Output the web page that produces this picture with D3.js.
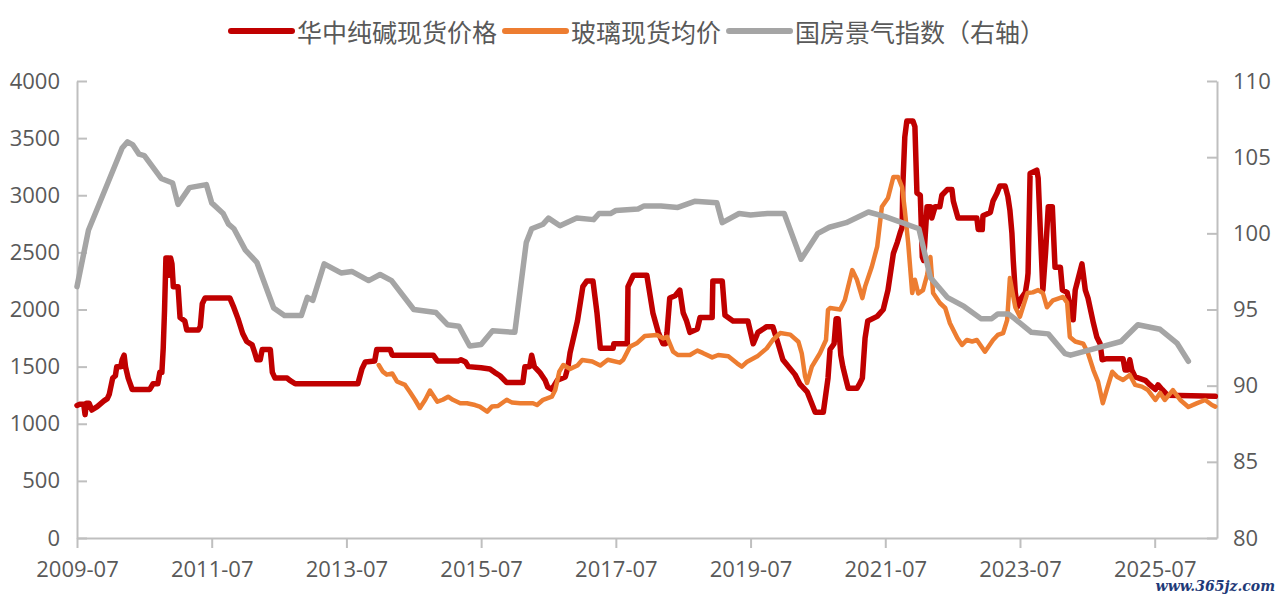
<!DOCTYPE html>
<html>
<head>
<meta charset="utf-8">
<script src="https://cdnjs.cloudflare.com/ajax/libs/d3/7.8.5/d3.min.js"></script>
<style>
	body { margin: 0; background: #fff; }
	svg { display: block; }
</style>
</head>
<body>
<script>
// Series data: [decimal year, value]
var sodaPrice = [
	[2009.50,1160],[2009.54,1170],[2009.60,1170],[2009.62,1080],[2009.64,1180],[2009.68,1180],[2009.72,1120],
	[2009.80,1150],[2009.90,1200],[2009.95,1220],[2009.98,1260],[2010.03,1400],[2010.07,1420],[2010.09,1500],
	[2010.15,1500],[2010.17,1560],[2010.20,1600],[2010.22,1500],[2010.26,1400],[2010.32,1300],[2010.58,1300],
	[2010.63,1350],[2010.70,1350],[2010.73,1450],[2010.76,1450],[2010.78,1660],[2010.80,2000],[2010.82,2450],
	[2010.86,2450],[2010.87,2300],[2010.89,2450],[2010.91,2400],[2010.93,2200],[2011.00,2200],[2011.03,1930],
	[2011.10,1900],[2011.13,1820],[2011.30,1820],[2011.33,1850],[2011.36,2050],[2011.40,2100],[2011.77,2100],
	[2011.82,2030],[2011.89,1920],[2011.96,1790],[2012.02,1720],[2012.10,1690],[2012.14,1620],[2012.17,1560],
	[2012.22,1560],[2012.25,1650],[2012.37,1650],[2012.40,1450],[2012.44,1400],[2012.62,1400],[2012.66,1380],
	[2012.74,1350],[2013.67,1350],[2013.73,1480],[2013.78,1540],[2013.92,1550],[2013.95,1650],[2014.15,1650],
	[2014.18,1600],[2014.79,1600],[2014.85,1550],[2015.16,1550],[2015.20,1560],[2015.27,1540],[2015.31,1500],
	[2015.50,1490],[2015.63,1480],[2015.70,1450],[2015.78,1420],[2015.88,1360],[2016.12,1360],[2016.15,1500],
	[2016.22,1500],[2016.25,1600],[2016.29,1500],[2016.37,1450],[2016.45,1380],[2016.49,1320],[2016.55,1300],
	[2016.63,1380],[2016.75,1410],[2016.79,1500],[2016.82,1620],[2016.93,1900],[2017.01,2200],[2017.07,2250],
	[2017.16,2250],[2017.22,1970],[2017.27,1660],[2017.46,1660],[2017.47,1700],[2017.67,1700],[2017.68,2200],
	[2017.76,2300],[2017.96,2300],[2018.05,1970],[2018.13,1800],[2018.20,1700],[2018.24,1700],[2018.26,1800],
	[2018.30,2100],[2018.38,2120],[2018.45,2170],[2018.50,1970],[2018.55,1900],[2018.60,1800],[2018.71,1830],
	[2018.75,1930],[2018.93,1930],[2018.94,2250],[2019.08,2250],[2019.12,1950],[2019.24,1900],[2019.46,1900],
	[2019.54,1700],[2019.61,1800],[2019.74,1850],[2019.83,1850],[2019.91,1700],[2019.98,1560],[2020.16,1430],
	[2020.23,1350],[2020.34,1280],[2020.46,1100],[2020.58,1100],[2020.65,1400],[2020.68,1650],[2020.74,1700],
	[2020.77,1920],[2020.80,1920],[2020.84,1600],[2020.87,1500],[2020.92,1380],[2020.95,1310],[2021.08,1310],
	[2021.12,1350],[2021.16,1400],[2021.20,1750],[2021.24,1900],[2021.38,1940],[2021.47,2000],[2021.54,2170],
	[2021.62,2490],[2021.68,2590],[2021.72,2670],[2021.75,2720],[2021.76,3070],[2021.79,3510],[2021.82,3650],
	[2021.91,3650],[2021.94,3600],[2021.97,3020],[2022.02,3000],[2022.05,2460],[2022.07,2430],[2022.12,2900],
	[2022.17,2900],[2022.19,2800],[2022.24,2900],[2022.31,2900],[2022.34,3000],[2022.42,3050],[2022.49,3050],
	[2022.51,2950],[2022.58,2800],[2022.86,2800],[2022.88,2700],[2022.94,2700],[2022.95,2820],[2023.06,2850],
	[2023.10,2950],[2023.16,3020],[2023.20,3080],[2023.28,3080],[2023.32,2990],[2023.35,2870],[2023.38,2670],
	[2023.40,2430],[2023.43,2150],[2023.46,2020],[2023.52,2100],[2023.58,2150],[2023.61,2260],[2023.62,2320],
	[2023.65,3190],[2023.75,3220],[2023.77,3150],[2023.80,2720],[2023.84,2170],[2023.88,2500],[2023.92,2900],
	[2023.98,2900],[2024.02,2370],[2024.10,2370],[2024.13,2170],[2024.20,2150],[2024.29,1910],[2024.32,2170],
	[2024.36,2260],[2024.42,2400],[2024.47,2170],[2024.51,2100],[2024.59,1880],[2024.64,1760],[2024.69,1700],
	[2024.72,1560],[2024.79,1570],[2025.03,1570],[2025.06,1470],[2025.10,1470],[2025.13,1560],[2025.16,1470],
	[2025.21,1410],[2025.36,1380],[2025.43,1340],[2025.51,1300],[2025.55,1340],[2025.61,1300],[2025.69,1250],
	[2026.40,1240]
];

var glassPrice = [
	[2013.98,1514],[2014.04,1456],[2014.10,1430],[2014.18,1440],[2014.25,1370],[2014.37,1340],[2014.44,1280],
	[2014.52,1208],[2014.59,1138],[2014.67,1210],[2014.74,1290],[2014.85,1193],[2014.93,1210],[2015.01,1237],
	[2015.08,1210],[2015.19,1180],[2015.29,1180],[2015.41,1164],[2015.48,1150],[2015.59,1106],[2015.66,1150],
	[2015.75,1155],[2015.88,1210],[2015.96,1185],[2016.08,1180],[2016.27,1180],[2016.33,1164],[2016.42,1210],
	[2016.55,1237],[2016.60,1295],[2016.66,1456],[2016.72,1514],[2016.82,1480],[2016.93,1510],[2017.00,1558],
	[2017.15,1545],[2017.27,1510],[2017.38,1560],[2017.56,1535],[2017.61,1560],[2017.71,1675],[2017.81,1704],
	[2017.93,1768],[2018.11,1777],[2018.20,1747],[2018.26,1760],[2018.35,1631],[2018.42,1602],[2018.60,1602],
	[2018.71,1640],[2018.79,1620],[2018.93,1581],[2019.02,1602],[2019.17,1590],[2019.30,1529],[2019.37,1500],
	[2019.45,1543],[2019.60,1590],[2019.74,1660],[2019.83,1733],[2019.94,1794],[2020.09,1780],[2020.21,1718],
	[2020.26,1617],[2020.31,1412],[2020.34,1357],[2020.41,1500],[2020.53,1617],[2020.62,1733],[2020.65,1996],
	[2020.68,2013],[2020.83,2000],[2020.90,2083],[2021.01,2345],[2021.08,2260],[2021.16,2100],[2021.20,2200],
	[2021.30,2374],[2021.38,2550],[2021.45,2900],[2021.54,2976],[2021.62,3160],[2021.69,3160],[2021.75,3070],
	[2021.79,2870],[2021.84,2582],[2021.90,2144],[2021.94,2260],[2021.99,2140],[2022.06,2170],[2022.12,2300],
	[2022.17,2460],[2022.21,2144],[2022.31,2057],[2022.39,2013],[2022.46,1880],[2022.57,1750],[2022.64,1690],
	[2022.71,1733],[2022.79,1720],[2022.86,1733],[2022.98,1631],[2023.10,1733],[2023.17,1777],[2023.25,1794],
	[2023.31,1908],[2023.35,2275],[2023.43,2020],[2023.50,1937],[2023.61,2144],[2023.69,2150],[2023.77,2170],
	[2023.84,2144],[2023.90,2020],[2023.99,2080],[2024.14,2110],[2024.20,2060],[2024.24,1760],[2024.32,1720],
	[2024.44,1700],[2024.51,1617],[2024.59,1470],[2024.66,1366],[2024.73,1180],[2024.79,1300],[2024.87,1455],
	[2024.94,1412],[2025.03,1383],[2025.13,1427],[2025.21,1340],[2025.31,1325],[2025.40,1295],[2025.51,1208],
	[2025.58,1270],[2025.65,1208],[2025.77,1295],[2025.88,1208],[2026.00,1147],[2026.13,1180],[2026.25,1208],
	[2026.35,1164],[2026.40,1150]
];

var climateIndex = [
	[2009.50,96.5],[2009.67,100.2],[2010.17,105.6],[2010.25,106.0],[2010.33,105.8],[2010.42,105.2],[2010.50,105.1],
	[2010.75,103.6],[2010.92,103.3],[2011.00,101.9],[2011.17,103.0],[2011.42,103.2],[2011.50,102.0],[2011.67,101.3],
	[2011.75,100.6],[2011.83,100.3],[2012.00,98.9],[2012.17,98.1],[2012.42,95.1],[2012.58,94.6],[2012.83,94.6],
	[2012.92,95.8],[2013.00,95.6],[2013.17,98.0],[2013.42,97.4],[2013.58,97.5],[2013.83,96.9],[2014.00,97.3],
	[2014.17,96.9],[2014.50,95.0],[2014.83,94.8],[2015.00,94.0],[2015.17,93.9],[2015.33,92.6],[2015.50,92.7],
	[2015.67,93.6],[2016.00,93.5],[2016.17,99.4],[2016.25,100.3],[2016.42,100.6],[2016.50,101.0],[2016.67,100.5],
	[2016.92,101.0],[2017.17,100.9],[2017.25,101.3],[2017.42,101.3],[2017.50,101.5],[2017.83,101.6],[2017.92,101.8],
	[2018.17,101.8],[2018.42,101.7],[2018.67,102.1],[2019.00,102.0],[2019.08,100.7],[2019.33,101.3],[2019.50,101.2],
	[2019.75,101.3],[2020.00,101.3],[2020.25,98.3],[2020.50,100.0],[2020.67,100.4],[2020.92,100.7],[2021.25,101.4],
	[2021.50,101.1],[2022.00,100.3],[2022.17,97.1],[2022.42,95.8],[2022.67,95.2],[2022.92,94.4],[2023.08,94.4],
	[2023.17,94.7],[2023.33,94.7],[2023.42,94.4],[2023.67,93.5],[2023.92,93.4],[2024.17,92.1],[2024.25,92.0],
	[2024.58,92.4],[2025.00,92.9],[2025.25,94.0],[2025.58,93.7],[2025.83,92.8],[2026.00,91.6]
];

var seriesNames = ["华中纯碱现货价格", "玻璃现货均价", "国房景气指数（右轴）"];
var seriesColors = ["#C00000", "#ED7D31", "#A5A5A5"];
var xTickValues = [2009.5, 2011.5, 2013.5, 2015.5, 2017.5, 2019.5, 2021.5, 2023.5, 2025.5];
var xTickLabels = ["2009-07", "2011-07", "2013-07", "2015-07", "2017-07", "2019-07", "2021-07", "2023-07", "2025-07"];
var leftTicks = [0, 500, 1000, 1500, 2000, 2500, 3000, 3500, 4000];
var rightTicks = [80, 85, 90, 95, 100, 105, 110];

// Canvas
var W = 1283, H = 599;
var plotLeft = 77, plotRight = 1217, plotTop = 81, plotBottom = 538;

var svg = d3.select("body").
append("svg").
attr("width", W).
attr("height", H);

var xScale = d3.scaleLinear().domain([2009.5, 2026.425]).range([plotLeft, plotRight]);
var yLeft = d3.scaleLinear().domain([0, 4000]).range([plotBottom, plotTop]);
var yRight = d3.scaleLinear().domain([80, 110]).range([plotBottom, plotTop]);

var tickFont = "'Open Sans', 'Noto Sans CJK SC', sans-serif";
var axisColor = "#BFBFBF";
var textColor = "#595959";

function styleAxis(g) {
	g.selectAll("path, line").attr("stroke", axisColor).attr("stroke-width", 2);
	g.selectAll("text").
	attr("fill", textColor).
	style("font-family", tickFont).
	style("font-size", "22px");
}

// Axes
svg.append("g").
attr("transform", "translate(" + plotLeft + ",0)").
call(d3.axisLeft(yLeft).tickValues(leftTicks).tickFormat(d3.format("d")).tickSize(-10).tickSizeOuter(0).tickPadding(17)).
call(styleAxis);

svg.append("g").
attr("transform", "translate(" + plotRight + ",0)").
call(d3.axisRight(yRight).tickValues(rightTicks).tickFormat(d3.format("d")).tickSize(-10).tickSizeOuter(0).tickPadding(16)).
call(styleAxis);

svg.append("g").
attr("transform", "translate(0," + plotBottom + ")").
call(d3.axisBottom(xScale).tickValues(xTickValues).tickFormat(function (d, i) {return xTickLabels[i];}).tickSize(10).tickSizeOuter(0).tickPadding(13)).
call(styleAxis);

// Lines
var lineLeft = d3.line().
x(function (d) {return xScale(d[0]);}).
y(function (d) {return yLeft(d[1]);});

var lineRight = d3.line().
x(function (d) {return xScale(d[0]);}).
y(function (d) {return yRight(d[1]);});

svg.append("path").
attr("d", lineLeft(sodaPrice)).
attr("fill", "none").
attr("stroke", seriesColors[0]).
attr("stroke-width", 5.5).
attr("stroke-linejoin", "round").
attr("stroke-linecap", "round");

svg.append("path").
attr("d", lineLeft(glassPrice)).
attr("fill", "none").
attr("stroke", seriesColors[1]).
attr("stroke-width", 4.5).
attr("stroke-linejoin", "round").
attr("stroke-linecap", "round");

svg.append("path").
attr("d", lineRight(climateIndex)).
attr("fill", "none").
attr("stroke", seriesColors[2]).
attr("stroke-width", 5.5).
attr("stroke-linejoin", "round").
attr("stroke-linecap", "round");

// Legend
var legend = svg.append("g");
var lx = 231, ly = 31;
seriesNames.forEach(function (name, i) {
	legend.append("line").
	attr("x1", lx).attr("x2", lx + 61).
	attr("y1", ly).attr("y2", ly).
	attr("stroke", seriesColors[i]).
	attr("stroke-width", 6).
	attr("stroke-linecap", "round");
	var t = legend.append("text").
	attr("x", lx + 66).
	attr("y", ly).
	attr("dominant-baseline", "central").
	attr("fill", textColor).
	style("font-family", "'Noto Sans CJK SC', sans-serif").
	style("font-size", "25px").
	text(name);
	lx = lx + 66 + t.node().getComputedTextLength() + 8;
});

// Watermark
svg.append("text").
attr("x", 1275).
attr("y", 591).
attr("text-anchor", "end").
attr("fill", "#1F3A78").
style("font-family", "'DejaVu Serif', serif").
style("font-style", "italic").
style("font-weight", "bold").
style("font-size", "14px").
text("www.365jz.com");
</script>
</body>
</html>
